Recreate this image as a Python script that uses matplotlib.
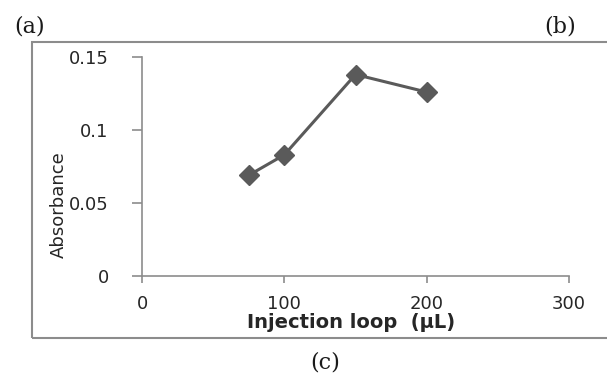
import matplotlib
matplotlib.use("Agg")
import matplotlib.pyplot as plt
from matplotlib.patches import Rectangle

loop_volume = [75, 100, 150, 200]
absorbance = [0.069, 0.083, 0.138, 0.126]
x_ticks = [0, 100, 200, 300]
y_ticks = [0, 0.05, 0.1, 0.15]
y_tick_labels = ["0", "0.05", "0.1", "0.15"]

fig = plt.figure(figsize=(6.07, 3.74), dpi=100)
ax = fig.add_axes([142/607, 1-276/374, (569-142)/607, (276-57)/374])

ax.plot(loop_volume, absorbance, color="#5a5a5a", lw=2.2, marker="D", ms=10,
        markerfacecolor="#5a5a5a", markeredgecolor="#5a5a5a")
ax.set_xlim(0, 300)
ax.set_ylim(0, 0.15)
ax.set_xticks(x_ticks)
ax.set_yticks(y_ticks)
ax.set_yticklabels(y_tick_labels)
for s in ["top", "right"]:
    ax.spines[s].set_visible(False)
for s in ["left", "bottom"]:
    ax.spines[s].set_color("#8c8c8c")
    ax.spines[s].set_linewidth(1.2)
ax.tick_params(axis="both", colors="#8c8c8c", width=1.2,
               labelcolor="#262626", labelsize=13)
ax.tick_params(axis="x", length=5, pad=9)
ax.tick_params(axis="y", length=7, pad=17)

fig.text(351/607, 1-323/374, "Injection loop  (\u03bcL)", fontsize=14,
         fontweight="bold", color="#262626", va="center", ha="center")
fig.text(59/607, 1-205/374, "Absorbance", rotation=90, fontsize=13,
         color="#262626", va="center", ha="center")

fig.text(30/607, 1-26/374, "(a)", fontsize=16, family="DejaVu Serif",
         va="center", ha="center", color="#1a1a1a")
fig.text(560/607, 1-26/374, "(b)", fontsize=16, family="DejaVu Serif",
         va="center", ha="center", color="#1a1a1a")
fig.text(325/607, 1-363/374, "(c)", fontsize=16, family="DejaVu Serif",
         va="center", ha="center", color="#1a1a1a")

fig.patches.append(Rectangle((32/607, 1-338/374), 600/607, (338-42)/374,
                             transform=fig.transFigure, fill=False,
                             edgecolor="#8c8c8c", lw=1.5))

fig.savefig("out.png", dpi=100)
